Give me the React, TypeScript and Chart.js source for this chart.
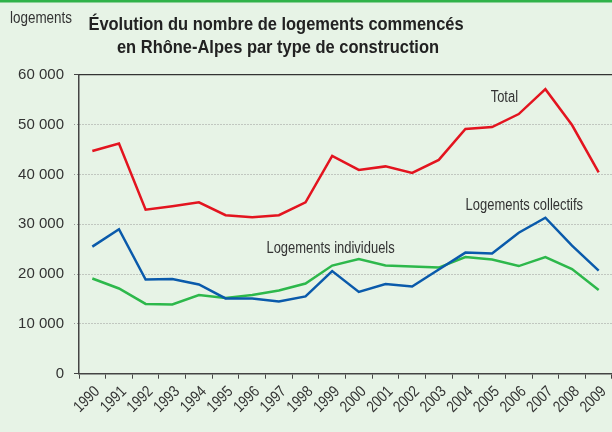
import React, { useEffect, useRef } from "react";
import { Chart, registerables } from "chart.js";

Chart.register(...registerables);

const years = ["1990","1991","1992","1993","1994","1995","1996","1997","1998","1999","2000","2001","2002","2003","2004","2005","2006","2007","2008","2009"];
const total = [44700, 46200, 32900, 33600, 34400, 31800, 31400, 31800, 34400, 43700, 40900, 41600, 40300, 42900, 49100, 49500, 52100, 57100, 49900, 40400];
const collectifs = [25500, 29000, 18900, 19000, 17900, 15100, 15100, 14500, 15500, 20600, 16400, 18000, 17500, 20900, 24300, 24100, 28300, 31300, 25700, 20700];
const individuels = [19100, 17100, 14000, 13900, 15800, 15200, 15800, 16700, 18100, 21700, 23000, 21700, 21500, 21300, 23400, 22900, 21600, 23400, 21000, 16800];
const yTicks = [0, 10000, 20000, 30000, 40000, 50000, 60000];

const titleLines = ["Évolution du nombre de logements commencés", "en Rhône-Alpes par type de construction"];
const yTitle = "logements";
// series labels anchored in data space: [text, category index, value]
const seriesLabels: [string, number, number][] = [
  ["Total", 15.46, 55400],
  ["Logements collectifs", 16.21, 33800],
  ["Logements individuels", 8.94, 25100],
];

const FONT = "'Liberation Sans', Arial, sans-serif";
const TEXT = "#333333";
const BG = "#e7f3e6";

const fmt = (v: number) => {
  if (v === 0) return "0";
  const s = String(v);
  return s.slice(0, s.length - 3) + " " + s.slice(s.length - 3);
};

function drawText(ctx: any, text: string, x: number, y: number, font: string, sx: number, align: string, rot = 0) {
  ctx.save();
  ctx.translate(x, y);
  if (rot) ctx.rotate(rot);
  ctx.scale(sx, 1);
  ctx.font = font;
  ctx.textAlign = align;
  ctx.textBaseline = "middle";
  ctx.fillText(text, 0, 0);
  ctx.restore();
}

const decorPlugin = {
  id: "decor",
  beforeDraw(chart: any) {
    const { ctx } = chart;
    ctx.save();
    ctx.fillStyle = BG;
    ctx.fillRect(0, 0, chart.width, chart.height);
    ctx.fillStyle = "#30b24a";
    ctx.fillRect(0, 0, chart.width, 2.5);
    ctx.restore();
  },
  afterDraw(chart: any) {
    const { ctx, chartArea, scales } = chart;
    ctx.save();
    // top border of plot
    ctx.strokeStyle = "#333333";
    ctx.lineWidth = 1.2;
    ctx.beginPath();
    ctx.moveTo(chartArea.left, chartArea.top);
    ctx.lineTo(chart.width, chartArea.top);
    ctx.stroke();
    // title
    ctx.fillStyle = "#222222";
    drawText(ctx, titleLines[0], 276, 25, "bold 18px " + FONT, 0.915, "center");
    drawText(ctx, titleLines[1], 278, 48, "bold 18px " + FONT, 0.915, "center");
    // y title
    ctx.fillStyle = TEXT;
    drawText(ctx, yTitle, 41, 19, "16px " + FONT, 0.84, "center");
    // x tick labels
    years.forEach((lab, i) => {
      const x = scales.x.getPixelForValue(i);
      drawText(ctx, lab, x + 5, chartArea.bottom + 15.5, "16px " + FONT, 0.82, "right", -Math.PI / 4);
    });
    // series labels
    for (const [t, xi, v] of seriesLabels) {
      const x = scales.x.getPixelForValue(xi);
      const y = scales.y.getPixelForValue(v);
      drawText(ctx, t, x, y, "16px " + FONT, 0.81, "center");
    }
    ctx.restore();
  },
};

export default function App() {
  const ref = useRef<HTMLCanvasElement>(null);
  useEffect(() => {
    document.body.style.margin = "0";
    const chart = new Chart(ref.current!, {
      type: "line",
      data: {
        labels: years,
        datasets: [
          { label: "Total", data: total, borderColor: "#e3141f", borderWidth: 2.5, pointRadius: 0, tension: 0 },
          { label: "Logements collectifs", data: collectifs, borderColor: "#0a5aab", borderWidth: 2.5, pointRadius: 0, tension: 0 },
          { label: "Logements individuels", data: individuels, borderColor: "#2db84b", borderWidth: 2.5, pointRadius: 0, tension: 0 },
        ],
      },
      options: {
        animation: false,
        responsive: false,
        maintainAspectRatio: false,
        layout: { padding: { top: 74.7, right: 0, left: 0, bottom: 0 } },
        plugins: { legend: { display: false }, tooltip: { enabled: false } },
        scales: {
          x: {
            offset: true,
            grid: { offset: true, drawOnChartArea: false, drawTicks: true, tickLength: 5, color: "#444444", lineWidth: 1 },
            border: { color: "#444444", width: 1.5 },
            ticks: { display: false, autoSkip: false },
            afterFit: (s: any) => { s.height = 58.3; },
          },
          y: {
            min: 0,
            max: 60000,
            afterBuildTicks: (s: any) => { s.ticks = yTicks.map((v) => ({ value: v })); },
            grid: {
              color: (c: any) => (c.tick && c.tick.value === 0 ? "#444444" : "#9a9a9a"),
              lineWidth: 1,
              tickLength: 5,
              drawTicks: true,
              tickBorderDash: (c: any) => (c.tick && (c.tick.value === 0 || c.tick.value === 60000) ? [] : [1, 2]),
              tickColor: (c: any) => (c.tick && (c.tick.value === 0 || c.tick.value === 60000) ? "#444444" : "#9a9a9a"),
            },
            border: { color: "#444444", width: 1.5, dash: [1, 2] },
            ticks: { color: TEXT, font: { family: FONT, size: 15 }, padding: 10, callback: (v: any) => fmt(Number(v)) },
            afterFit: (s: any) => { s.width = 79; },
          },
        },
      },
      plugins: [decorPlugin],
    } as any);
    return () => chart.destroy();
  }, []);
  return (
    <div style={{ position: "fixed", left: 0, top: 0, width: 612, height: 432 }}>
      <canvas ref={ref} width={612} height={432} style={{ display: "block" }} />
    </div>
  );
}
